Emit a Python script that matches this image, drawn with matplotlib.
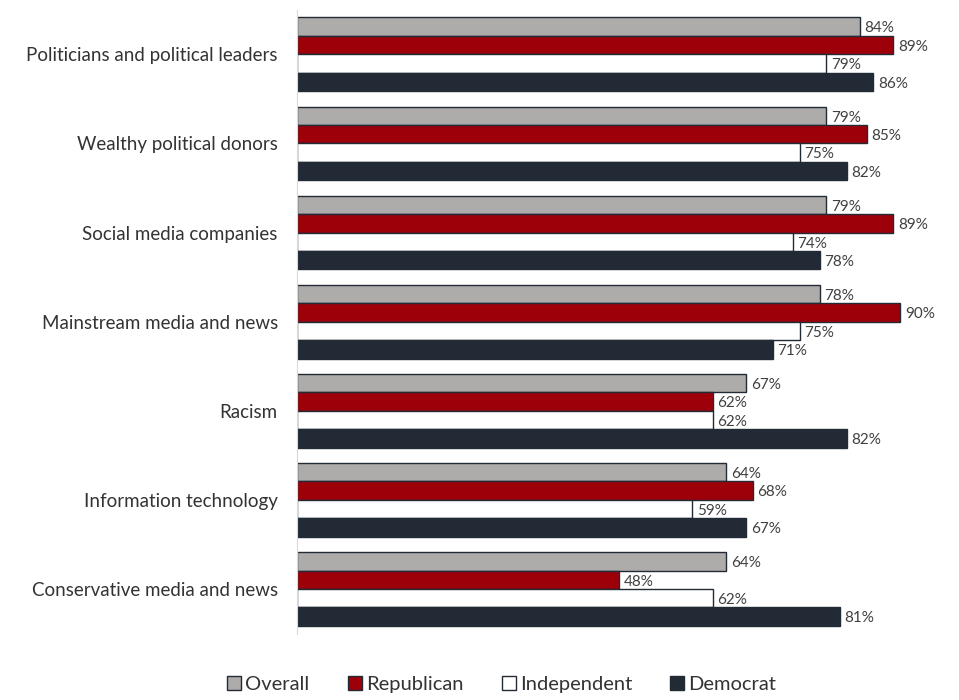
import numpy as np
import matplotlib
matplotlib.use("Agg")
import matplotlib.pyplot as plt
from matplotlib.patches import Patch

plt.rcParams['font.family'] = ['Lato', 'DejaVu Sans']

# Data
categories = [
    "Politicians and political leaders",
    "Wealthy political donors",
    "Social media companies",
    "Mainstream media and news",
    "Racism",
    "Information technology",
    "Conservative media and news",
]
series_names = ["Overall", "Republican", "Independent", "Democrat"]
overall = [84, 79, 79, 78, 67, 64, 64]
republican = [89, 85, 89, 90, 62, 68, 48]
independent = [79, 75, 74, 75, 62, 59, 62]
democrat = [86, 82, 78, 71, 82, 67, 81]

colors = ["#AEABAB", "#9E000A", "#FFFFFF", "#222A35"]
edge = "#222A35"

fig = plt.figure(figsize=(9.59, 7.0), dpi=100)
ax = fig.add_axes([0.31, 0.095, 0.66, 0.891])

all_series = [overall, republican, independent, democrat]
y = np.arange(len(categories))
h = 0.207
for i, (vals, name, col) in enumerate(zip(all_series, series_names, colors)):
    pos = y - 1.5 * h + i * h
    ax.barh(pos, vals, height=h, color=col, edgecolor=edge, linewidth=1.0, label=name)
    for p, v in zip(pos, vals):
        ax.text(v + 0.7, p + 0.02, f"{v}%", va="center", ha="left",
                fontsize=11, color="#404040")

ax.set_xlim(0, 94.5)
ax.set_ylim(len(categories) - 0.5, -0.5)
ax.set_yticks(y)
ax.set_yticklabels(categories, fontsize=13.5, color="#333333")
ax.tick_params(axis="y", length=0, pad=14)
ax.set_xticks([])
for s in ["top", "right", "bottom"]:
    ax.spines[s].set_visible(False)
ax.spines["left"].set_color("#D9D9D9")

handles = [Patch(facecolor=c, edgecolor=edge, linewidth=1.0) for c in colors]
fig.legend(handles, series_names, loc="center", bbox_to_anchor=(0.523, 0.022),
           ncol=4, frameon=False, fontsize=14.5, handlelength=0.7, handleheight=0.7,
           handletextpad=0.2, columnspacing=1.9, labelcolor="#333333")

fig.savefig("out.png", dpi=100)
